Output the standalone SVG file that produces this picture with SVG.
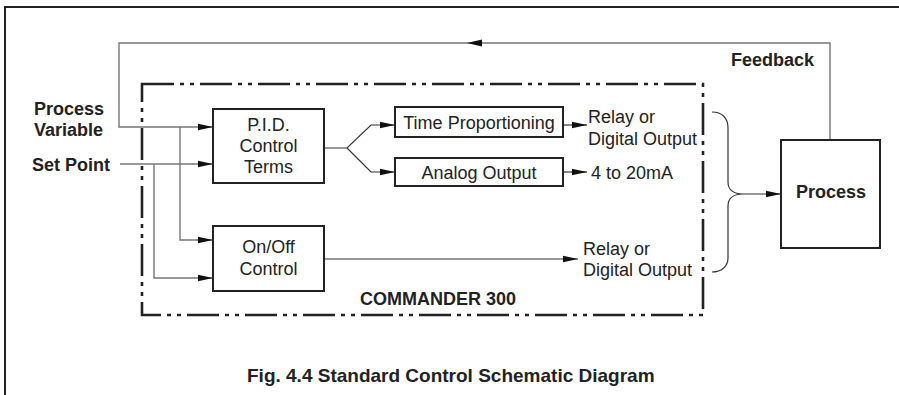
<svg xmlns="http://www.w3.org/2000/svg" width="899" height="395" viewBox="0 0 899 395">
<style>
text{font-family:"Liberation Sans",Arial,sans-serif;font-size:18px;fill:#222}
.b{font-weight:bold}
.m{text-anchor:middle}
.cap{font-size:19px}
.box{fill:#fff;stroke:#222;stroke-width:2}
.ln{fill:none;stroke:#333;stroke-width:1.2}
.gr{fill:none;stroke:#777;stroke-width:1.4}
.dash{fill:none;stroke:#222;stroke-width:2.6;stroke-dasharray:32 6 4 6 4 6}
</style>
<defs>
<marker id="ah" markerUnits="userSpaceOnUse" markerWidth="16" markerHeight="8" refX="15" refY="4" orient="auto">
<path d="M0,0.8 L15,4 L0,7.2 Z" fill="#111"/>
</marker>
</defs>
<path d="M5,395 V7 H899" fill="none" stroke="#222" stroke-width="2"/>
<path class="dash" d="M142,84 H703 V315 H142 Z"/>
<g id="connectors">
<path class="gr" d="M830,140 V43 H119 V127 H213" marker-end="url(#ah)"/>
<polygon points="467,43 482,39.5 482,46.5" fill="#111"/>
<path class="ln" d="M120,164 H213" marker-end="url(#ah)"/>
<path class="gr" d="M180,127 V240 H213" marker-end="url(#ah)"/>
<path class="gr" d="M154,164 V278 H213" marker-end="url(#ah)"/>
<path class="ln" d="M324,148 H347 L371,125 H395" marker-end="url(#ah)"/>
<path class="ln" d="M347,148 L371,172 H395" marker-end="url(#ah)"/>
<path class="ln" d="M563,125 H587" marker-end="url(#ah)"/>
<path class="ln" d="M563,172 H587" marker-end="url(#ah)"/>
<path class="ln" d="M324,259 H578" marker-end="url(#ah)"/>
<path class="ln" d="M712,112 C722,112 728,118 728,128 L728,182 C728,190 734,194 743,194 C734,194 728,198 728,206 L728,258 C728,266 722,272 712,272"/>
<path class="ln" d="M743,194 H781" marker-end="url(#ah)"/>
</g>
<g id="pid">
<rect class="box" x="213" y="109" width="111" height="74"/>
<text class="m" x="268.5" y="131">P.I.D.</text>
<text class="m" x="268.5" y="152">Control</text>
<text class="m" x="268.5" y="173">Terms</text>
</g>
<g id="onoff">
<rect class="box" x="213" y="226" width="111" height="65"/>
<text class="m" x="268.5" y="253">On/Off</text>
<text class="m" x="268.5" y="275">Control</text>
</g>
<g id="timeprop">
<rect class="box" x="395" y="107" width="168" height="30"/>
<text class="m" x="479" y="129">Time Proportioning</text>
</g>
<g id="analog">
<rect class="box" x="395" y="158" width="168" height="28"/>
<text class="m" x="479" y="179">Analog Output</text>
</g>
<g id="process">
<rect class="box" x="781" y="140" width="99" height="108"/>
<text class="b m" x="831" y="198">Process</text>
</g>
<g id="labels">
<text class="b" x="34" y="114.5">Process</text>
<text class="b" x="34" y="136">Variable</text>
<text class="b" x="32" y="171">Set Point</text>
<text class="b" x="731" y="66">Feedback</text>
<text x="588" y="123">Relay or</text>
<text x="588" y="145">Digital Output</text>
<text x="591" y="179">4 to 20mA</text>
<text x="583" y="255">Relay or</text>
<text x="583" y="276">Digital Output</text>
<text class="b" x="360" y="304.5">COMMANDER 300</text>
<text class="b cap" x="247" y="381.5">Fig. 4.4 Standard Control Schematic Diagram</text>
</g>
</svg>
